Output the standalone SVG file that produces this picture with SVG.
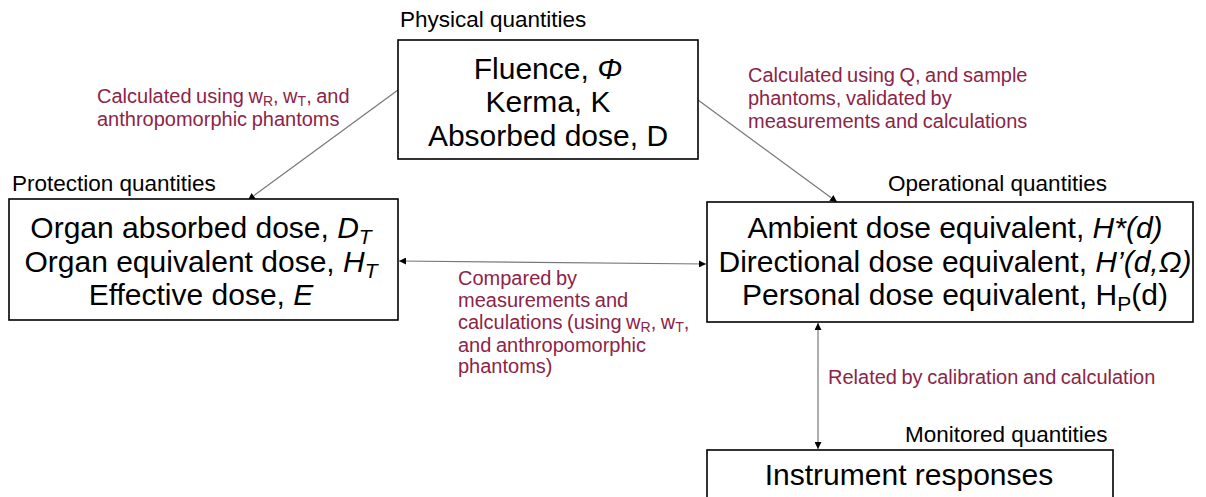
<svg xmlns="http://www.w3.org/2000/svg" width="1206" height="497" viewBox="0 0 1206 497">
<style>
.box{fill:#fff;stroke:#000;stroke-width:1.6}
.main{font-family:"Liberation Sans",Arial,sans-serif;font-size:30px;fill:#000;text-anchor:middle}
.hdr{font-family:"Liberation Sans",Arial,sans-serif;font-size:22.5px;fill:#000}
.lbl{font-family:"Liberation Sans",Arial,sans-serif;font-size:20px;fill:#8c2448;word-spacing:-1px}
.con{stroke:#777;stroke-width:1.2;fill:none}
.sub{font-size:70%}
</style>
<defs>
<marker id="ah" viewBox="0 0 10 10" refX="10" refY="5" markerWidth="7" markerHeight="7" markerUnits="userSpaceOnUse" orient="auto-start-reverse">
<path d="M0,0 L10,5 L0,10 z" fill="#000"/>
</marker>
</defs>
<rect width="1206" height="497" fill="#fff"/>
<g id="connectors">
<line class="con" x1="398" y1="90" x2="248" y2="200" marker-end="url(#ah)"/>
<line class="con" x1="698" y1="100" x2="837" y2="202" marker-end="url(#ah)"/>
<line class="con" x1="399" y1="261" x2="706" y2="264" marker-start="url(#ah)" marker-end="url(#ah)"/>
<line class="con" x1="818" y1="323" x2="818" y2="449" marker-start="url(#ah)" marker-end="url(#ah)"/>
</g>
<g id="physical">
<text class="hdr" x="400" y="27">Physical quantities</text>
<rect class="box" x="398" y="40" width="300" height="119"/>
<text class="main" x="548" y="79">Fluence, <tspan font-style="italic">Φ</tspan></text>
<text class="main" x="548" y="112">Kerma, K</text>
<text class="main" x="548" y="146">Absorbed dose, D</text>
</g>
<g id="protection">
<text class="hdr" x="12" y="191">Protection quantities</text>
<rect class="box" x="9" y="199" width="389" height="121"/>
<text class="main" x="201" y="238" font-size="29.5">Organ absorbed dose, <tspan font-style="italic">D<tspan class="sub" dy="6">T</tspan></tspan></text>
<text class="main" x="201" y="272" font-size="29.5">Organ equivalent dose, <tspan font-style="italic">H<tspan class="sub" dy="6">T</tspan></tspan></text>
<text class="main" x="201" y="305" font-size="29.5">Effective dose, <tspan font-style="italic">E</tspan></text>
</g>
<g id="operational">
<text class="hdr" x="888" y="191">Operational quantities</text>
<rect class="box" x="707" y="202" width="486" height="120"/>
<text class="main" x="955" y="238">Ambient dose equivalent, <tspan font-style="italic">H*(d)</tspan></text>
<text class="main" x="955" y="272">Directional dose equivalent, <tspan font-style="italic">H’(d,Ω)</tspan></text>
<text class="main" x="955" y="305">Personal dose equivalent, H<tspan class="sub" dy="6">P</tspan><tspan dy="-6">(d)</tspan></text>
</g>
<g id="monitored">
<text class="hdr" x="905" y="442">Monitored quantities</text>
<rect class="box" x="707" y="450" width="406" height="60"/>
<text class="main" x="909" y="485">Instrument responses</text>
</g>
<g id="labels">
<text class="lbl" x="97" y="103">Calculated using w<tspan class="sub" dy="3">R</tspan><tspan dy="-3">, w</tspan><tspan class="sub" dy="3">T</tspan><tspan dy="-3">, and</tspan></text>
<text class="lbl" x="97" y="126">anthropomorphic phantoms</text>
<text class="lbl" x="748" y="82">Calculated using Q, and sample</text>
<text class="lbl" x="748" y="105">phantoms, validated by</text>
<text class="lbl" x="748" y="128">measurements and calculations</text>
<text class="lbl" x="458" y="285">Compared by</text>
<text class="lbl" x="458" y="307">measurements and</text>
<text class="lbl" x="458" y="329">calculations (using w<tspan class="sub" dy="3">R</tspan><tspan dy="-3">, w</tspan><tspan class="sub" dy="3">T</tspan><tspan dy="-3">,</tspan></text>
<text class="lbl" x="458" y="352">and anthropomorphic</text>
<text class="lbl" x="458" y="373">phantoms)</text>
<text class="lbl" x="828" y="384">Related by calibration and calculation</text>
</g>
</svg>
